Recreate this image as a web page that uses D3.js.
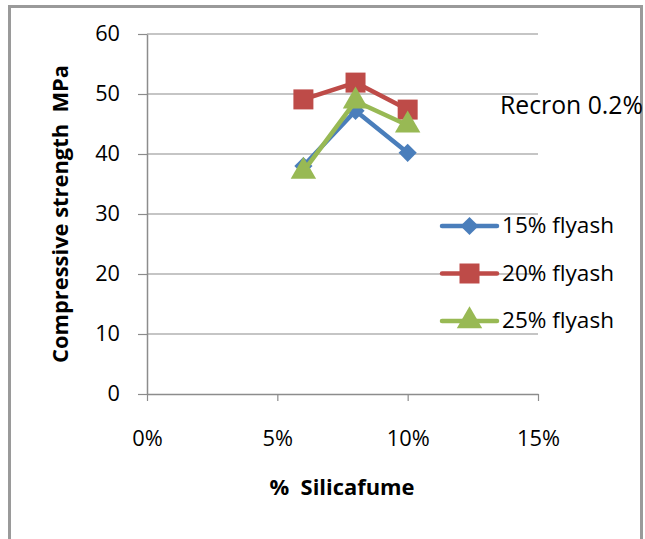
<!DOCTYPE html>
<html>
<head>
<meta charset="utf-8">
<script src="https://cdn.jsdelivr.net/npm/d3@7"></script>
<style>
  html, body { margin: 0; padding: 0; background: #fff; }
  svg { display: block; }
  text { font-family: "Open Sans", "Liberation Sans", sans-serif; fill: #000; }
</style>
</head>
<body>
<svg id="chart" width="645" height="539"></svg>
<script>
// Silica fume content (fraction) on the x axis
const silicaFume = [0.06, 0.08, 0.10];

// Compressive strength (MPa) for each fly ash content
const flyash15 = [38.0, 47.2, 40.2];
const flyash20 = [49.1, 51.9, 47.4];
const flyash25 = [37.1, 48.8, 44.8];

const seriesNames = ["15% flyash", "20% flyash", "25% flyash"];
const xTicks = [0, 0.05, 0.10, 0.15];
const yTicks = [0, 10, 20, 30, 40, 50, 60];

const svg = d3.select("#chart");

// outer chart frame
svg.append("rect")
  .attr("x", 9.5).attr("y", 6.5)
  .attr("width", 632).attr("height", 560)
  .attr("fill", "#fff")
  .attr("stroke", "#9a9a9a").attr("stroke-width", 3);

const x = d3.scaleLinear().domain([0, 0.15]).range([147, 538]);
const y = d3.scaleLinear().domain([0, 60]).range([394, 34]);

// horizontal gridlines
svg.append("g")
  .selectAll("line")
  .data(yTicks.filter(d => d > 0))
  .join("line")
  .attr("x1", x(0)).attr("x2", x(0.15))
  .attr("y1", d => y(d)).attr("y2", d => y(d))
  .attr("stroke", "#8c8c8c").attr("stroke-width", 1.2);

// fit a text element to a given width by adjusting its font size
function fitWidth(sel, target) {
  const node = sel.node();
  const size = parseFloat(sel.style("font-size"));
  const w = node.getComputedTextLength();
  const fitted = size * target / w;
  sel.style("font-size", fitted.toFixed(2) + "px");
  return fitted;
}

// y axis
const yAxis = svg.append("g")
  .attr("transform", `translate(${x(0)},0)`)
  .call(d3.axisLeft(y).tickValues(yTicks).tickSize(9).tickPadding(18).tickSizeOuter(0));
yAxis.select(".domain").attr("stroke", "#8c8c8c").attr("stroke-width", 1.5);
yAxis.selectAll(".tick line").attr("stroke", "#8c8c8c").attr("stroke-width", 1.2);
yAxis.selectAll(".tick text")
  .attr("fill", "#000")
  .style("font-size", "20px")
  .each(function() { fitWidth(d3.select(this), this.textContent.length * 12.4); });

// x axis
const xAxis = svg.append("g")
  .attr("transform", `translate(0,${y(0)})`)
  .call(d3.axisBottom(x).tickValues(xTicks).tickFormat(d3.format(".0%"))
    .tickSize(7).tickPadding(30).tickSizeOuter(0));
xAxis.select(".domain").attr("stroke", "#8c8c8c").attr("stroke-width", 1.5);
xAxis.selectAll(".tick line").attr("stroke", "#8c8c8c").attr("stroke-width", 1.2);
const xLabels = xAxis.selectAll(".tick text")
  .attr("fill", "#000")
  .style("font-size", "20px");
// size all x labels alike, taken from the widest one
const xSize = fitWidth(xLabels.filter((d, i) => i === 2), 43);
xLabels.style("font-size", xSize.toFixed(2) + "px");

// axis titles
const yTitle = svg.append("text")
  .attr("transform", `translate(68,214) rotate(-90)`)
  .attr("text-anchor", "middle")
  .style("font-weight", "bold").style("font-size", "18px")
  .text("Compressive strength\u00a0 MPa");
fitWidth(yTitle, 298);

const xTitle = svg.append("text")
  .attr("x", 342).attr("y", 495)
  .attr("text-anchor", "middle")
  .style("font-weight", "bold").style("font-size", "18px")
  .text("%\u00a0 Silicafume");
fitWidth(xTitle, 145);

// annotation
const note = svg.append("text")
  .attr("x", 500).attr("y", 114)
  .style("font-size", "19px")
  .text("Recron 0.2%");
fitWidth(note, 143);

const series = [
  { name: seriesNames[0], values: flyash15, color: "#4a7ebb", symbol: d3.symbolDiamond2, size: 210 },
  { name: seriesNames[1], values: flyash20, color: "#be4b48", symbol: d3.symbolSquare, size: 400 },
  { name: seriesNames[2], values: flyash25, color: "#98b954", symbol: d3.symbolTriangle, size: 280 }
];

const line = d3.line().x(d => x(d[0])).y(d => y(d[1]));

series.forEach(s => {
  const pts = silicaFume.map((v, i) => [v, s.values[i]]);
  const g = svg.append("g");
  g.append("path")
    .attr("d", line(pts))
    .attr("fill", "none")
    .attr("stroke", s.color).attr("stroke-width", 4.5)
    .attr("stroke-linejoin", "round");
  g.selectAll("path.m")
    .data(pts)
    .join("path")
    .attr("class", "m")
    .attr("transform", d => `translate(${x(d[0])},${y(d[1])})`)
    .attr("d", d3.symbol().type(s.symbol).size(s.size))
    .attr("fill", s.color);
});

// legend
const legend = svg.append("g");
series.forEach((s, i) => {
  const ly = 226 + i * 47.5;
  const g = legend.append("g").attr("transform", `translate(0,${ly})`);
  g.append("line")
    .attr("x1", 442).attr("x2", 497)
    .attr("stroke", s.color).attr("stroke-width", 4.5)
    .attr("stroke-linecap", "round");
  g.append("path")
    .attr("transform", "translate(469.5,0)")
    .attr("d", d3.symbol().type(s.symbol).size(s.size))
    .attr("fill", s.color);
  const t = g.append("text")
    .attr("x", 502).attr("y", 7)
    .style("font-size", "19px")
    .text(s.name);
  fitWidth(t, 112);
});
</script>
</body>
</html>
